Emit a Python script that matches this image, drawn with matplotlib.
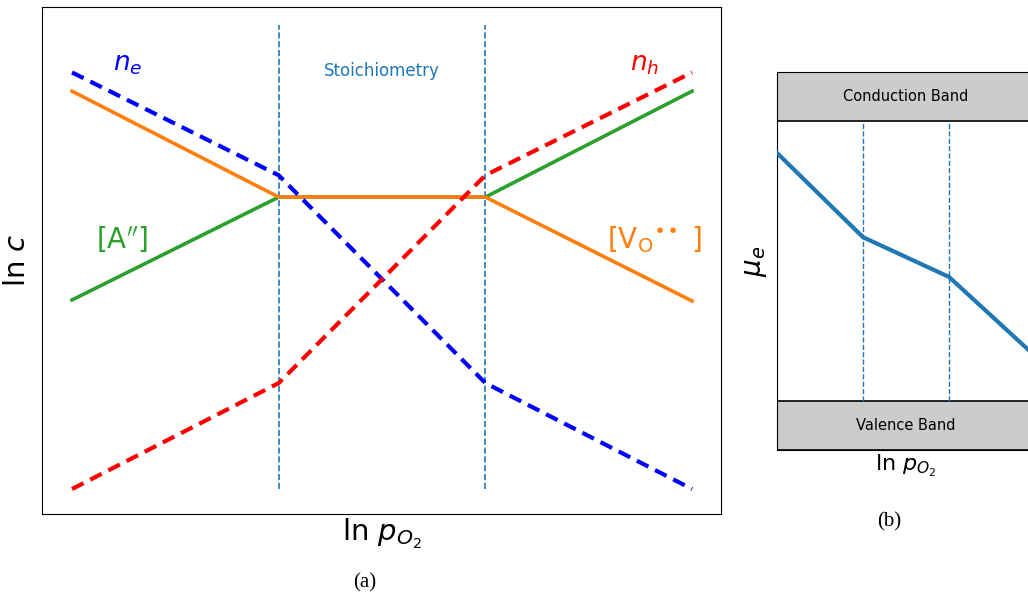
import matplotlib
matplotlib.use("Agg")
import matplotlib.pyplot as plt
from matplotlib.patches import Rectangle

# Brouwer-type defect diagram: ln c versus ln p_O2
x_pts = [0, 1, 2, 3]
boundaries = [1, 2]
vo_conc = [1.02, 0.0, 0.0, -1.0]       # [V_O..]
acc_conc = [-0.99, 0.0, 0.0, 1.02]     # [A'']
ne_conc = [1.2, 0.21, -1.79, -2.81]    # electrons
nh_conc = [-2.81, -1.79, 0.21, 1.2]    # holes

# Electron chemical potential versus ln p_O2
mu_x = [0, 1, 2, 3]
mu_e = [0.786, 0.563, 0.458, 0.249]
cb_bottom = 0.870
vb_top = 0.130

fig = plt.figure(figsize=(10.28, 6.01), dpi=100)

# ---- panel (a)
ax = fig.add_axes([0.0409, 0.1448, 0.6605, 0.8436])
ax.plot(x_pts, vo_conc, color="tab:orange", lw=2.6, zorder=3)
ax.plot(x_pts, acc_conc, color="tab:green", lw=2.6, zorder=2)
ax.plot(x_pts, ne_conc, color="blue", lw=3, ls=(0, (3.1, 1.8)), zorder=4)
ax.plot(x_pts, nh_conc, color="red", lw=3, ls=(0, (3.1, 1.8)), zorder=4)
for b in boundaries:
    ax.axvline(b, color="tab:blue", lw=1.2, ls="--", ymin=0.05, ymax=0.965)
ax.set_xlim(-0.145, 3.14)
ax.set_ylim(-3.05, 1.83)
ax.set_xticks([])
ax.set_yticks([])
ax.set_xlabel(r"ln $p_{O_2}$", fontsize=21, labelpad=2)
ax.set_ylabel(r"ln $c$", fontsize=21, labelpad=8)

ax.text(0.27, 1.28, r"$n_e$", color="blue", fontsize=19, ha="center", va="center")
ax.text(2.77, 1.28, r"$n_h$", color="red", fontsize=19, ha="center", va="center")
ax.text(0.24, -0.41, r"[A$^{\prime\prime}$]", color="tab:green", fontsize=20,
        ha="center", va="center")
ax.text(2.82, -0.41, r"[V$_\mathrm{O}$$^{\bullet\!\bullet}$ ]", color="tab:orange",
        fontsize=20, ha="center", va="center")
ax.text(1.5, 1.21, "Stoichiometry", color="tab:blue", fontsize=12,
        ha="center", va="center")

# ---- panel (b)
bx = fig.add_axes([0.7558, 0.2512, 0.251, 0.629])
bx.add_patch(Rectangle((0, cb_bottom), 3, 1 - cb_bottom, facecolor="#cccccc",
                       edgecolor="black", lw=1.2, zorder=1))
bx.add_patch(Rectangle((0, 0), 3, vb_top, facecolor="#cccccc",
                       edgecolor="black", lw=1.2, zorder=1))
bx.text(1.5, (1 + cb_bottom) / 2, "Conduction Band", fontsize=10.5,
        ha="center", va="center")
bx.text(1.5, vb_top / 2, "Valence Band", fontsize=10.5, ha="center", va="center")
for b in boundaries:
    bx.plot([b, b], [vb_top, cb_bottom], color="tab:blue", lw=1, ls="--")
bx.plot(mu_x, mu_e, color="tab:blue", lw=3, zorder=3)
bx.set_xlim(0, 3)
bx.set_ylim(0, 1)
bx.set_xticks([])
bx.set_yticks([])
bx.set_xlabel(r"ln $p_{O_2}$", fontsize=16, labelpad=2)
bx.set_ylabel(r"$\mu_e$", fontsize=20, labelpad=6)

# captions
fig.text(0.355, 0.031, "(a)", fontsize=15, family="Liberation Serif",
         ha="center", va="center")
fig.text(0.865, 0.131, "(b)", fontsize=15, family="Liberation Serif",
         ha="center", va="center")

fig.savefig("out.png", dpi=100)
